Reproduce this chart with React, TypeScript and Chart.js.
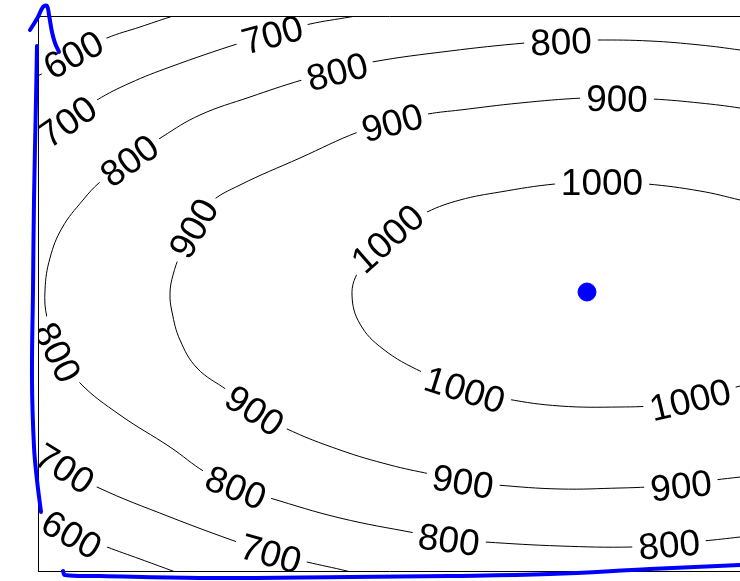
import React, { useEffect, useRef } from "react";
import { Chart, registerables } from "chart.js";

Chart.register(...registerables);

// ---------- data (plot units) ----------
const xMin = 0;
const xMax = 7.02;
const yMin = 0;
const yMax = 5.55;

const contourLevels = [600, 700, 800, 900, 1000];

const contour600Top = [[1.62, 5.63], [1.32, 5.54], [1.02, 5.44], [0.69, 5.33], [0.35, 5.16], [0.07, 4.99], [-0.18, 4.86]];
const contour600Bottom = [[-0.18, 0.71], [0.02, 0.62], [0.34, 0.38], [0.69, 0.24], [1.02, 0.12], [1.32, 0.01], [1.62, -0.1]];

const contour700Top = [[3.52, 5.61], [3.12, 5.54], [2.72, 5.47], [2.34, 5.37], [2.02, 5.28], [1.32, 5.04], [0.92, 4.88], [0.59, 4.71], [0.29, 4.5], [0.02, 4.31], [-0.18, 4.16]];
const contour700Bottom = [[-0.18, 1.31], [0.0, 1.21], [0.27, 1.03], [0.59, 0.84], [1.32, 0.54], [2.02, 0.28], [2.33, 0.18], [2.69, 0.09], [3.09, 0.0], [3.52, -0.11]];

const contour800 = [
  [7.42, 5.15], [7.02, 5.21], [6.62, 5.26], [6.12, 5.3], [5.59, 5.31], [5.23, 5.3], [4.87, 5.28], [4.12, 5.2], [3.34, 5.09],
  [2.99, 5.0], [2.64, 4.91], [2.12, 4.74], [1.62, 4.56], [1.24, 4.34], [0.91, 4.11], [0.62, 3.89], [0.45, 3.71],
  [0.24, 3.43], [0.12, 3.13], [0.07, 2.81], [0.09, 2.53], [0.2, 2.19], [0.42, 1.88], [0.82, 1.56], [1.32, 1.24],
  [1.67, 0.99], [1.98, 0.84], [2.32, 0.73], [3.02, 0.53], [3.77, 0.38], [4.11, 0.32], [4.47, 0.29], [5.22, 0.25],
  [5.95, 0.24], [6.31, 0.27], [6.65, 0.3], [7.02, 0.34], [7.42, 0.39],
];

const contour900 = [
  [7.42, 4.56], [7.02, 4.63], [6.62, 4.68], [6.15, 4.72], [5.79, 4.73], [5.45, 4.73], [4.82, 4.68], [4.22, 4.61],
  [3.9, 4.57], [3.54, 4.49], [3.2, 4.39], [2.62, 4.13], [2.02, 3.86], [1.72, 3.68], [1.55, 3.43], [1.42, 3.16],
  [1.35, 2.96], [1.32, 2.78], [1.34, 2.59], [1.42, 2.31], [1.59, 2.03], [1.89, 1.81], [2.17, 1.61], [2.47, 1.43],
  [3.02, 1.21], [3.52, 1.06], [3.92, 0.97], [4.25, 0.9], [4.59, 0.86], [5.22, 0.82], [5.82, 0.83], [6.1, 0.84],
  [6.43, 0.86], [6.77, 0.91], [7.02, 0.94], [7.42, 0.99],
];

const contour1000 = [
  [7.42, 3.61], [7.02, 3.71], [6.62, 3.8], [6.09, 3.87], [5.64, 3.89], [5.17, 3.87], [4.62, 3.79], [4.22, 3.71],
  [3.89, 3.59], [3.62, 3.43], [3.49, 3.33], [3.37, 3.21], [3.2, 2.99], [3.14, 2.76], [3.22, 2.47], [3.45, 2.22],
  [3.84, 1.99], [4.27, 1.82], [4.69, 1.72], [5.22, 1.65], [5.82, 1.64], [6.22, 1.66], [6.52, 1.72], [7.02, 1.85],
  [7.42, 1.96],
];

const labels600 = [[0.35, 5.17], [0.34, 0.37]];
const labels700 = [[0.29, 4.5], [2.34, 5.37], [0.27, 1.03], [2.33, 0.18]];
const labels800 = [[0.91, 4.11], [2.99, 5.0], [5.23, 5.3], [0.2, 2.19], [1.98, 0.84], [4.11, 0.32], [6.31, 0.27]];
const labels900 = [[1.55, 3.43], [3.54, 4.49], [5.79, 4.73], [2.17, 1.61], [4.25, 0.9], [6.43, 0.86]];
const labels1000 = [[3.49, 3.33], [5.64, 3.89], [4.27, 1.82], [6.52, 1.72]];

// hand-drawn blue annotation strokes
const blueArrowShaft = [[-0.01, 5.25], [-0.02, 4.71], [-0.04, 3.71], [-0.05, 2.81], [-0.06, 1.91], [-0.04, 1.24], [-0.01, 0.91], [0.03, 0.59]];
const blueArrowHead = [[-0.21, 5.2], [-0.17, 5.28], [-0.08, 5.41], [0.0, 5.54], [0.05, 5.64], [0.09, 5.65], [0.11, 5.56], [0.14, 5.39], [0.17, 5.28], [0.21, 5.19]];
const blueBaseline = [[0.25, 0.0], [0.27, -0.04], [0.62, -0.05], [1.62, -0.07], [3.12, -0.06], [4.12, -0.05], [5.12, -0.03], [6.12, 0.02], [7.02, 0.06]];
const blueMark = [[5.49, 2.79]];

const contourPaths = [
  { level: contourLevels[0], points: contour600Top },
  { level: contourLevels[0], points: contour600Bottom },
  { level: contourLevels[1], points: contour700Top },
  { level: contourLevels[1], points: contour700Bottom },
  { level: contourLevels[2], points: contour800 },
  { level: contourLevels[3], points: contour900 },
  { level: contourLevels[4], points: contour1000 },
];

const labelPositions = [
  { level: contourLevels[0], points: labels600 },
  { level: contourLevels[1], points: labels700 },
  { level: contourLevels[2], points: labels800 },
  { level: contourLevels[3], points: labels900 },
  { level: contourLevels[4], points: labels1000 },
];

// ---------- styling ----------
const FONT_SIZE = 37;
const FONT = `${FONT_SIZE}px "Liberation Sans", Arial, Helvetica, sans-serif`;
const LABEL_PAD = 6;
const LABEL_BOX_H = 26;
const BLUE = "#0000ff";

const toXY = (pts: number[][]) => pts.map(([x, y]) => ({ x, y }));

type Box = { text: string; cx: number; cy: number; ang: number; w: number };

function labelBoxes(chart: any): Box[] {
  const xs = chart.scales.x;
  const ys = chart.scales.y;
  const ctx = chart.ctx as CanvasRenderingContext2D;
  ctx.save();
  ctx.font = FONT;
  const out: Box[] = [];
  for (const set of labelPositions) {
    const text = String(set.level);
    const w = ctx.measureText(text).width;
    const paths = contourPaths
      .filter((p) => p.level === set.level)
      .map((p) => p.points.map(([x, y]) => [xs.getPixelForValue(x), ys.getPixelForValue(y)]));
    for (const [lx, ly] of set.points) {
      const cx = xs.getPixelForValue(lx);
      const cy = ys.getPixelForValue(ly);
      let best = Infinity;
      let ang = 0;
      for (const path of paths) {
        for (let j = 0; j < path.length; j++) {
          const d = (path[j][0] - cx) ** 2 + (path[j][1] - cy) ** 2;
          if (d < best) {
            best = d;
            const a = path[Math.max(0, j - 1)];
            const b = path[Math.min(path.length - 1, j + 1)];
            ang = Math.atan2(b[1] - a[1], b[0] - a[0]);
          }
        }
      }
      if (ang > Math.PI / 2) ang -= Math.PI;
      if (ang < -Math.PI / 2) ang += Math.PI;
      out.push({ text, cx, cy, ang, w });
    }
  }
  ctx.restore();
  return out;
}

const contourLabelPlugin = {
  id: "contourLabels",
  beforeDatasetsDraw(chart: any) {
    const boxes = labelBoxes(chart);
    chart.$labelBoxes = boxes;
    const ctx = chart.ctx as CanvasRenderingContext2D;
    const a = chart.chartArea;
    ctx.save();
    ctx.beginPath();
    ctx.rect(a.left, a.top, a.right - a.left, a.bottom - a.top);
    ctx.clip();
    ctx.font = FONT;
    ctx.fillStyle = "#000";
    ctx.textAlign = "center";
    ctx.textBaseline = "alphabetic";
    for (const b of boxes) {
      ctx.save();
      ctx.translate(b.cx, b.cy);
      ctx.rotate(b.ang);
      ctx.fillText(b.text, 0, FONT_SIZE * 0.358);
      ctx.restore();
    }
    ctx.restore();
  },
  beforeDatasetDraw(chart: any, args: any) {
    const ds = chart.data.datasets[args.index];
    if (!ds.isContour) return;
    const boxes: Box[] = chart.$labelBoxes || labelBoxes(chart);
    const ctx = chart.ctx as CanvasRenderingContext2D;
    ctx.save();
    ctx.beginPath();
    ctx.rect(0, 0, chart.width, chart.height);
    for (const b of boxes) {
      const hw = b.w / 2 + LABEL_PAD;
      const hh = LABEL_BOX_H / 2;
      const c = Math.cos(b.ang);
      const s = Math.sin(b.ang);
      const pts = [[-hw, -hh], [hw, -hh], [hw, hh], [-hw, hh]].map(([u, v]) => [b.cx + u * c - v * s, b.cy + u * s + v * c]);
      ctx.moveTo(pts[0][0], pts[0][1]);
      for (let k = 1; k < 4; k++) ctx.lineTo(pts[k][0], pts[k][1]);
      ctx.closePath();
    }
    ctx.clip("evenodd");
  },
  afterDatasetDraw(chart: any, args: any) {
    const ds = chart.data.datasets[args.index];
    if (ds.isContour) chart.ctx.restore();
  },
};

const hiddenAxis = (min: number, max: number, extra: any = {}) => ({
  type: "linear",
  min,
  max,
  display: true,
  grid: { display: false, drawTicks: false },
  ticks: { display: false },
  border: { display: true, color: "#000", width: 1 },
  ...extra,
});

export default function App() {
  const ref = useRef<HTMLCanvasElement | null>(null);

  useEffect(() => {
    if (!ref.current) return;
    const blueStroke = (pts: number[][]) => ({
      data: toXY(pts),
      showLine: true,
      borderColor: BLUE,
      borderWidth: 4,
      pointRadius: 0,
      pointHoverRadius: 0,
      tension: 0.4,
      clip: false,
      borderCapStyle: "round",
      borderJoinStyle: "round",
    });
    const datasets: any[] = [
      {
        data: toXY(blueMark),
        showLine: false,
        pointRadius: 9,
        pointHoverRadius: 9,
        pointBackgroundColor: BLUE,
        pointBorderColor: BLUE,
        pointBorderWidth: 1,
        clip: false,
      },
      blueStroke(blueArrowShaft),
      blueStroke(blueArrowHead),
      blueStroke(blueBaseline),
      ...contourPaths.map((p) => ({
        data: toXY(p.points),
        showLine: true,
        borderColor: "#000",
        borderWidth: 1,
        pointRadius: 0,
        pointHoverRadius: 0,
        tension: 0.4,
        isContour: true,
      })),
    ];
    const chart = new Chart(ref.current, {
      type: "scatter",
      data: { datasets },
      options: {
        animation: false,
        responsive: false,
        devicePixelRatio: 1,
        events: [],
        layout: { autoPadding: false, padding: { left: 38, top: 16, right: 0, bottom: 10 } },
        plugins: { legend: { display: false }, tooltip: { enabled: false } },
        scales: {
          x: hiddenAxis(xMin, xMax, { position: "bottom" }),
          y: hiddenAxis(yMin, yMax, { position: "left" }),
          xTop: hiddenAxis(xMin, xMax, { position: "top" }),
        },
      } as any,
      plugins: [contourLabelPlugin as any],
    });
    return () => chart.destroy();
  }, []);

  return (
    <div style={{ position: "absolute", left: 0, top: 0, width: 740, height: 581, background: "#fff" }}>
      <canvas ref={ref} width={740} height={581} style={{ display: "block", width: 740, height: 581 }} />
    </div>
  );
}
